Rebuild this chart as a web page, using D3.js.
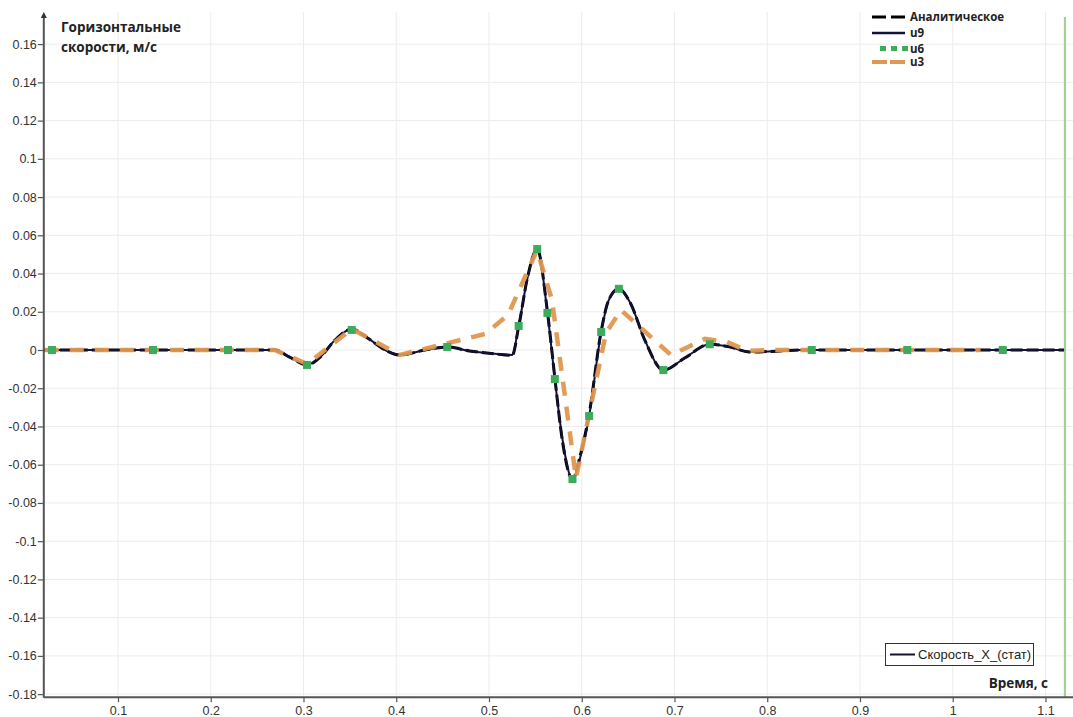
<!DOCTYPE html>
<html>
<head>
<meta charset="utf-8">
<script src="https://cdn.jsdelivr.net/npm/d3@7"></script>
<style>
  html, body { margin: 0; padding: 0; background: #fff; }
  svg { display: block; }
</style>
</head>
<body>
<svg id="chart" width="1073" height="717"></svg>
<script>
// Time samples and horizontal velocity values (m/s)
const timeU9 = [0.02, 0.1, 0.2, 0.26, 0.269, 0.285, 0.304, 0.318, 0.334, 0.352, 0.369, 0.388, 0.404, 0.431, 0.455, 0.479, 0.506, 0.525, 0.532, 0.542, 0.552, 0.563, 0.571, 0.579, 0.590, 0.599, 0.608, 0.621, 0.629, 0.640, 0.652, 0.668, 0.688, 0.711, 0.738, 0.760, 0.781, 0.814, 0.835, 0.95, 1.12];
const valuesU9 = [0, 0, 0, 0, 0, -0.0037, -0.0078, -0.0037, 0.0052, 0.011, 0.0063, 0, -0.0026, 0, 0.0016, -0.0005, -0.002, -0.0026, 0.0126, 0.0387, 0.0528, 0.0194, -0.0152, -0.046, -0.0675, -0.055, -0.0345, 0.0094, 0.026, 0.032, 0.025, 0.0052, -0.0105, -0.0042, 0.003, 0.0016, -0.001, -0.0005, 0, 0, 0];
const valuesAnalytic = [0, 0, 0, 0, 0, -0.0037, -0.0078, -0.0037, 0.0052, 0.011, 0.0063, 0, -0.0026, 0, 0.0016, -0.0005, -0.002, -0.0028, 0.0122, 0.0390, 0.0528, 0.0200, -0.0145, -0.0470, -0.0675, -0.0540, -0.0335, 0.0100, 0.026, 0.032, 0.025, 0.0052, -0.0105, -0.0042, 0.003, 0.0016, -0.001, -0.0005, 0, 0, 0];

const timeU6 = [0.0289, 0.1377, 0.2186, 0.3038, 0.352, 0.455, 0.532, 0.552, 0.563, 0.571, 0.590, 0.608, 0.621, 0.640, 0.688, 0.738, 0.848, 0.951, 1.054];
const valuesU6 = [0, 0, 0, -0.0078, 0.0105, 0.0016, 0.0126, 0.0528, 0.0194, -0.0152, -0.0675, -0.0345, 0.0094, 0.032, -0.0105, 0.003, 0, 0, 0];

const timeU3 = [0.02, 0.269, 0.304, 0.352, 0.404, 0.4957, 0.5205, 0.5518, 0.5679, 0.5938, 0.6261, 0.6423, 0.6962, 0.7329, 0.7566, 0.7792, 0.80, 1.03];
const valuesU3 = [0, 0, -0.0073, 0.011, -0.0026, 0.0084, 0.0183, 0.0523, 0.0262, -0.067, 0.0089, 0.0209, -0.0026, 0.0058, 0.0042, -0.0005, 0, 0];

const yTicks = [-0.18, -0.16, -0.14, -0.12, -0.1, -0.08, -0.06, -0.04, -0.02, 0, 0.02, 0.04, 0.06, 0.08, 0.1, 0.12, 0.14, 0.16];
const xTicks = [0.1, 0.2, 0.3, 0.4, 0.5, 0.6, 0.7, 0.8, 0.9, 1, 1.1];
const markerTime = 1.121;

const legendTop = ["Аналитическое", "u9", "u6", "u3"];
const legendBottom = "Скорость_X_(стат)";
const yTitle = ["Горизонтальные", "скорости, м/с"];
const xTitle = "Время, с";

const svg = d3.select("#chart");
const x = d3.scaleLinear().domain([0.02, 1.13]).range([43.8, 1073.3]);
const y = d3.scaleLinear().domain([-0.1816, 0.1768]).range([697.2, 12]);
const fmt = d => String(+d.toFixed(2));

const x0 = x.range()[0], yb = y.range()[0], yt = y.range()[1];

// grid
const grid = svg.append("g").attr("stroke", "#ececec").attr("stroke-width", 1);
grid.selectAll(".gx").data(xTicks).join("line")
  .attr("x1", d => x(d)).attr("x2", d => x(d)).attr("y1", yt).attr("y2", yb);
grid.selectAll(".gy").data(yTicks).join("line")
  .attr("x1", x0).attr("x2", 1073).attr("y1", d => y(d)).attr("y2", d => y(d));

// vertical time marker
svg.append("line")
  .attr("x1", x(markerTime)).attr("x2", x(markerTime))
  .attr("y1", 17).attr("y2", yb)
  .attr("stroke", "#9fd48e").attr("stroke-width", 2.2);

const pts = (ts, vs) => ts.map((t, i) => [t, vs[i]]);
const smooth = d3.line().x(d => x(d[0])).y(d => y(d[1])).curve(d3.curveMonotoneX);
const straight = d3.line().x(d => x(d[0])).y(d => y(d[1]));

// analytic solution (dashed black)
svg.append("path").datum(pts(timeU9, valuesAnalytic))
  .attr("d", smooth).attr("fill", "none")
  .attr("stroke", "#000").attr("stroke-width", 3)
  .attr("stroke-dasharray", "12,4");

// u9 solution
svg.append("path").datum(pts(timeU9, valuesU9))
  .attr("d", smooth).attr("fill", "none")
  .attr("stroke", "#121236").attr("stroke-width", 2);

// u3 solution (orange dashes)
svg.append("path").datum(pts(timeU3, valuesU3))
  .attr("d", straight).attr("fill", "none")
  .attr("stroke", "#e0974f").attr("stroke-width", 4.5)
  .attr("stroke-dasharray", "14,11").attr("stroke-dashoffset", -26)
  .attr("opacity", 0.95);

// u6 solution (green squares)
svg.append("g").selectAll("rect").data(pts(timeU6, valuesU6)).join("rect")
  .attr("x", d => x(d[0]) - 4).attr("y", d => y(d[1]) - 4)
  .attr("width", 8).attr("height", 8)
  .attr("fill", "#3dab5c");

// axes
const yAxis = svg.append("g").attr("transform", `translate(${x0},0)`)
  .call(d3.axisLeft(y).tickValues(yTicks).tickFormat(fmt).tickSize(6).tickPadding(1));
const xAxis = svg.append("g").attr("transform", `translate(0,${yb})`)
  .call(d3.axisBottom(x).tickValues(xTicks).tickFormat(fmt).tickSize(5).tickPadding(4));
[yAxis, xAxis].forEach(g => {
  g.select(".domain").remove();
  g.selectAll("line").attr("stroke", "#555").attr("stroke-width", 1.2);
  g.selectAll("text").attr("fill", "#333")
    .style("font-family", "'Liberation Sans', Arial, sans-serif").style("font-size", "12.5px");
});
svg.append("line").attr("x1", x0).attr("x2", x0).attr("y1", yt + 4).attr("y2", yb + 0.5)
  .attr("stroke", "#555").attr("stroke-width", 2);
svg.append("line").attr("x1", x0).attr("x2", 1073).attr("y1", yb).attr("y2", yb)
  .attr("stroke", "#555").attr("stroke-width", 2);
svg.append("path").attr("d", `M${x0},${yt} L${x0 - 3},${yt + 6} L${x0 + 3},${yt + 6} Z`).attr("fill", "#333");

// axis titles
const title = svg.append("text").attr("x", 61).attr("y", 32)
  .style("font-family", "'Open Sans', sans-serif").style("font-weight", 700)
  .style("font-size", "13.5px").attr("fill", "#222");
yTitle.forEach((s, i) => title.append("tspan").attr("x", 61).attr("dy", i ? 19.5 : 0).text(s));

svg.append("text").attr("x", 1048).attr("y", 688).attr("text-anchor", "end")
  .style("font-family", "'Open Sans', sans-serif").style("font-weight", 700)
  .style("font-size", "13.5px").attr("fill", "#222").text(xTitle);

// top legend
const lg = svg.append("g");
const rowY = [17, 33, 48.5, 62];
lg.append("line").attr("x1", 872).attr("x2", 905).attr("y1", rowY[0]).attr("y2", rowY[0])
  .attr("stroke", "#000").attr("stroke-width", 3).attr("stroke-dasharray", "14,5");
lg.append("line").attr("x1", 872).attr("x2", 905).attr("y1", rowY[1]).attr("y2", rowY[1])
  .attr("stroke", "#121236").attr("stroke-width", 2.5);
[883, 894, 905].forEach(cx => lg.append("rect").attr("x", cx - 3).attr("y", rowY[2] - 2.5)
  .attr("width", 6).attr("height", 5).attr("fill", "#3dab5c"));
lg.append("line").attr("x1", 872).attr("x2", 905).attr("y1", rowY[3]).attr("y2", rowY[3])
  .attr("stroke", "#e0974f").attr("stroke-width", 4).attr("stroke-dasharray", "15,3");
legendTop.forEach((s, i) => lg.append("text").attr("x", 910).attr("y", rowY[i]).attr("dy", "0.36em")
  .style("font-family", "'Open Sans', sans-serif").style("font-weight", 700)
  .style("font-size", "11.5px").attr("fill", "#222").text(s));

// bottom legend
const bl = svg.append("g");
bl.append("rect").attr("x", 885.5).attr("y", 643.5).attr("width", 148).attr("height", 22)
  .attr("fill", "#fff").attr("stroke", "#333").attr("stroke-width", 1);
bl.append("line").attr("x1", 890).attr("x2", 915).attr("y1", 654.5).attr("y2", 654.5)
  .attr("stroke", "#121236").attr("stroke-width", 2);
bl.append("text").attr("x", 918).attr("y", 654.5).attr("dy", "0.36em")
  .style("font-family", "'Liberation Sans', Arial, sans-serif").style("font-size", "13px")
  .attr("fill", "#222").text(legendBottom);
</script>
</body>
</html>
